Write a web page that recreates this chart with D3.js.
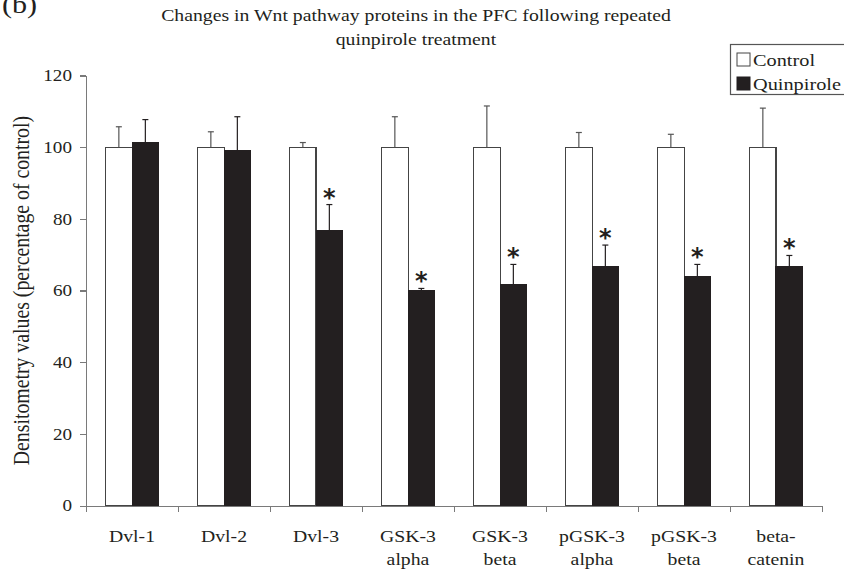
<!DOCTYPE html>
<html>
<head>
<meta charset="utf-8">
<script src="https://cdn.jsdelivr.net/npm/d3@7"></script>
<style>
  body { margin: 0; background: #fff; }
  svg { display: block; }
  svg text { font-family: "Liberation Serif", "Times New Roman", serif; }
  svg text.star { font-family: "DejaVu Sans", sans-serif; font-weight: bold; }
  .axis path, .axis line { stroke: #7a7a7a; stroke-width: 1.3; shape-rendering: crispEdges; }
  .axis text { fill: #231f20; }
</style>
</head>
<body>
<svg id="chart" width="844" height="569"></svg>
<script>
// chart values
const categories = ["Dvl-1", "Dvl-2", "Dvl-3", "GSK-3 alpha", "GSK-3 beta", "pGSK-3 alpha", "pGSK-3 beta", "beta-catenin"];
const categoryLines = [["Dvl-1"], ["Dvl-2"], ["Dvl-3"], ["GSK-3", "alpha"], ["GSK-3", "beta"], ["pGSK-3", "alpha"], ["pGSK-3", "beta"], ["beta-", "catenin"]];
const groups = ["Control", "Quinpirole"];
const controlMean = [100, 100, 100, 100, 100, 100, 100, 100];
const controlErr = [5.7, 4.3, 1.3, 8.5, 11.5, 4.1, 3.6, 10.9];
const quinMean = [101.4, 99.0, 76.8, 59.9, 61.6, 66.7, 63.9, 66.7];
const quinErr = [6.3, 9.5, 7.2, 0.7, 5.7, 6.0, 3.4, 3.1];
const significant = [false, false, true, true, true, true, true, true];
const yTicks = [0, 20, 40, 60, 80, 100, 120];

const title = ["Changes in Wnt pathway proteins in the PFC following repeated", "quinpirole treatment"];
const yLabel = "Densitometry values (percentage of control)";

function whenDocumentLoaded(action) {
  if (document.readyState === "loading") {
    document.addEventListener("DOMContentLoaded", action);
  } else {
    action();
  }
}

// the figure is a bit wider than tall, so the glyphs are stretched sideways
function widen(sel, k) {
  sel.each(function () {
    const w = this.getComputedTextLength();
    d3.select(this).attr("textLength", w * k).attr("lengthAdjust", "spacingAndGlyphs");
  });
}

function draw() {
  const svg = d3.select("#chart");
  const ink = "#231f20";
  const k = 1.16;

  const left = 86, right = 822, top = 75.5, bottom = 505.7;

  const rows = categories.map((c, i) => ({
    cat: c,
    lines: categoryLines[i],
    sig: significant[i],
    bars: [
      { group: "Control", mean: controlMean[i], err: controlErr[i] },
      { group: "Quinpirole", mean: quinMean[i], err: quinErr[i] },
    ],
  }));

  const x = d3.scaleBand().domain(categories).range([left, right]).padding(0);
  const xg = d3.scaleBand().domain(groups).range([19.6, 72.6]);
  const xEdge = d3.scaleLinear().domain([0, categories.length]).range([left, right]);
  const y = d3.scaleLinear().domain([0, 120]).range([bottom, top]);

  // panel letter, cut off at the top
  svg.append("text")
    .attr("x", 2).attr("y", 13)
    .attr("font-size", 26).attr("fill", ink)
    .text("(b)")
    .call(widen, k);

  // title
  svg.append("g").selectAll("text")
    .data(title)
    .join("text")
    .attr("x", 416).attr("y", (d, i) => 21 + i * 24)
    .attr("text-anchor", "middle")
    .attr("font-size", 17).attr("fill", ink)
    .text((d) => d)
    .call(widen, k);

  // bars
  const cat = svg.append("g").selectAll("g")
    .data(rows)
    .join("g")
    .attr("transform", (d) => "translate(" + x(d.cat) + ",0)");

  cat.selectAll("rect")
    .data((d) => d.bars)
    .join("rect")
    .attr("x", (d) => xg(d.group))
    .attr("y", (d) => y(d.mean))
    .attr("width", xg.bandwidth())
    .attr("height", (d) => y(0) - y(d.mean))
    .attr("fill", (d) => (d.group === "Control" ? "#fff" : ink))
    .attr("stroke", (d) => (d.group === "Control" ? "#444" : ink))
    .attr("stroke-width", 1.2)
    .attr("shape-rendering", "crispEdges");

  // error bars, upper half only
  const err = cat.selectAll("g.err")
    .data((d) => d.bars)
    .join("g")
    .attr("class", "err")
    .attr("stroke", (d) => (d.group === "Control" ? "#555" : ink))
    .attr("stroke-width", 1.2);

  err.append("line")
    .attr("x1", (d) => xg(d.group) + xg.bandwidth() / 2)
    .attr("x2", (d) => xg(d.group) + xg.bandwidth() / 2)
    .attr("y1", (d) => y(d.mean))
    .attr("y2", (d) => y(d.mean + d.err));

  err.append("line")
    .attr("x1", (d) => xg(d.group) + xg.bandwidth() / 2 - 3)
    .attr("x2", (d) => xg(d.group) + xg.bandwidth() / 2 + 3)
    .attr("y1", (d) => y(d.mean + d.err))
    .attr("y2", (d) => y(d.mean + d.err));

  // significance stars
  cat.filter((d) => d.sig)
    .append("text")
    .attr("class", "star")
    .attr("x", xg("Quinpirole") + xg.bandwidth() / 2)
    .attr("y", (d) => y(d.bars[1].mean + d.bars[1].err) + 1)
    .attr("text-anchor", "middle")
    .attr("font-size", 24)
    .attr("fill", ink)
    .text("*");

  // y axis
  const yAxis = svg.append("g")
    .attr("class", "axis")
    .attr("transform", "translate(" + left + ",0)")
    .call(d3.axisLeft(y).tickValues(yTicks).tickSize(6).tickSizeOuter(0).tickPadding(8));
  yAxis.selectAll("text").attr("font-size", 16.5).call(widen, k);

  // x axis: ticks at the category edges
  svg.append("g")
    .attr("class", "axis")
    .attr("transform", "translate(0," + bottom + ")")
    .call(d3.axisBottom(xEdge).tickValues(d3.range(categories.length + 1)).tickSize(6).tickSizeOuter(0).tickFormat(""));

  // category labels
  svg.append("g").selectAll("text")
    .data(rows)
    .join("text")
    .attr("text-anchor", "middle")
    .attr("font-size", 17)
    .attr("fill", ink)
    .selectAll("tspan")
    .data((d) => d.lines.map((l) => ({ l: l, cx: x(d.cat) + x.bandwidth() / 2 })))
    .join("tspan")
    .attr("x", (d) => d.cx)
    .attr("y", (d, i) => 542 + i * 23)
    .text((d) => d.l)
    .call(widen, k);

  // y axis label
  svg.append("text")
    .attr("transform", "translate(29," + (top + bottom) / 2 + ") rotate(-90)")
    .attr("text-anchor", "middle")
    .attr("font-size", 23)
    .attr("fill", ink)
    .text(yLabel)
    .call(widen, 0.86);

  // legend, runs off the right edge
  const legend = svg.append("g");
  legend.append("rect")
    .attr("x", 730.5).attr("y", 44.5)
    .attr("width", 130).attr("height", 50)
    .attr("fill", "#fff").attr("stroke", "#555").attr("stroke-width", 1.2);

  const item = legend.selectAll("g")
    .data(groups)
    .join("g")
    .attr("transform", (d, i) => "translate(737," + (53 + i * 24) + ")");

  item.append("rect")
    .attr("width", 13).attr("height", 13)
    .attr("fill", (d) => (d === "Control" ? "#fff" : ink))
    .attr("stroke", (d) => (d === "Control" ? "#444" : ink))
    .attr("stroke-width", 1);

  item.append("text")
    .attr("x", 16).attr("y", 12.5)
    .attr("font-size", 17.5).attr("fill", ink)
    .text((d) => d)
    .call(widen, k);
}

whenDocumentLoaded(draw);
</script>
</body>
</html>
